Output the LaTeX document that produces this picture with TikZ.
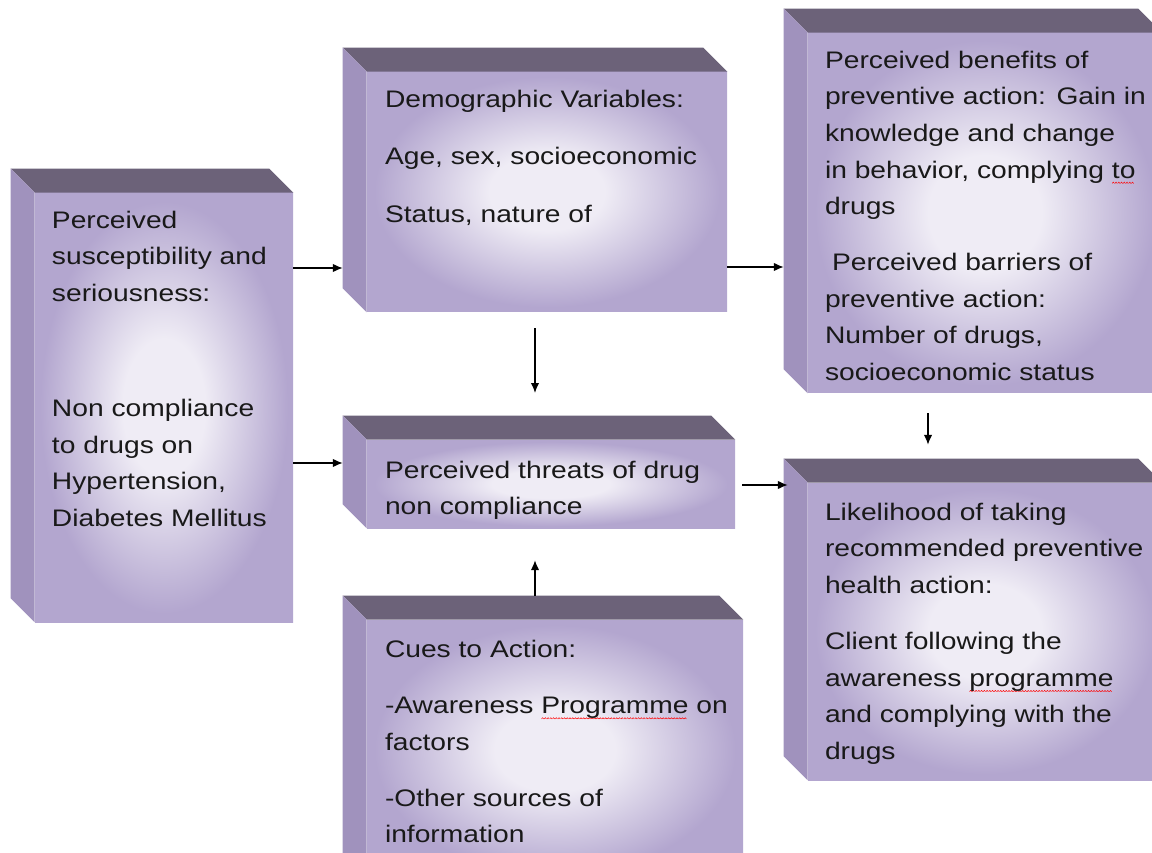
\documentclass[tikz,border=0pt]{standalone}
\usepackage{fontspec}
\usepackage{tikz}
\usetikzlibrary{fit,calc,arrows.meta}
\newfontfamily\boxfont[FakeStretch=1.18]{Liberation Sans}
\definecolor{topFace}{HTML}{6C6279}
\definecolor{sideFace}{HTML}{A092BD}
\definecolor{faceEdge}{HTML}{B3A6CF}
\definecolor{faceLight}{HTML}{EFECF5}
\pgfdeclareradialshading{softface}{\pgfpoint{0bp}{0bp}}{%
  color(0bp)=(faceLight); color(8bp)=(faceLight);
  color(24bp)=(faceEdge); color(50bp)=(faceEdge)}
\newcommand\spellwave[1]{\setbox0\hbox{#1}\rlap{\raisebox{-4pt}{\leaders\hbox{\tikz\draw[red,line width=0.35pt] (0pt,0pt)--(0.8pt,0.9pt)--(1.6pt,0pt);}\hskip\wd0}}#1}
\begin{document}
\begin{tikzpicture}[
x=0.025cm, y=-0.025cm,
face/.style={
  inner sep=0,
  shading=softface
  },
txt/.style={
  anchor=north west,
  inner sep=0,
  align=left,
  text=black!90,
  font=\boxfont\fontsize{17}{26}\selectfont
  },
flow/.style={-{Latex[length=7pt,width=6pt]}, line width=0.9pt}
]
\useasboundingbox (0,0) rectangle (1152,853);
\clip (0,0) rectangle (1152,853);
\node[face, shade, fit={(35,193) (293,622)}] (perc) {};
\node[face, shade, fit={(367,72) (727,312)}] (dem) {};
\node[face, shade, fit={(808,33) (1162,393)}] (ben) {};
\node[face, shade, fit={(367,440) (735,528)}] (thr) {};
\node[face, shade, fit={(367,620) (743,880)}] (cue) {};
\node[face, shade, fit={(808,483) (1162,780)}] (like) {};
\foreach \b in {perc,dem,ben,thr,cue,like}{
  \fill[topFace] (\b.north west) -- ++(-24,-24) -- ($(\b.north east)+(-24,-24)$) -- (\b.north east) -- cycle;
  \fill[sideFace] (\b.north west) -- ++(-24,-24) -- ($(\b.south west)+(-24,-24)$) -- (\b.south west) -- cycle;
}
\node[txt] (percTxt) at ([shift={(17,18)}]perc.north west)
  {Perceived\\ susceptibility and\\ seriousness:\\[56pt]
   Non compliance\\ to drugs on\\ Hypertension,\\ Diabetes Mellitus};
\node[txt] (demTxt) at ([shift={(18,18)}]dem.north west)
  {Demographic Variables:\\[15pt] Age, sex, socioeconomic\\[15pt] Status, nature of};
\node[txt] (benTxt) at ([shift={(17,18)}]ben.north west)
  {Perceived benefits of\\ preventive action: Gain in\\ knowledge and change\\
   in behavior, complying \spellwave{to}\\ drugs\\[14pt]
   \hspace*{5pt}Perceived barriers of\\ preventive action:\\ Number of drugs,\\ socioeconomic status};
\node[txt] (thrTxt) at ([shift={(18,21)}]thr.north west)
  {Perceived threats of drug\\ non compliance};
\node[txt] (cueTxt) at ([shift={(18,20)}]cue.north west)
  {Cues to Action:\\[14pt] -Awareness \spellwave{Programme} on\\ factors\\[14pt]
   -Other sources of\\ information};
\node[txt] (likeTxt) at ([shift={(17,20)}]like.north west)
  {Likelihood of taking\\ recommended preventive\\ health action:\\[14pt]
   Client following the\\ awareness \spellwave{programme}\\ and complying with the\\ drugs};
\draw[flow, shorten >=6mm] (perc.east |- 0,268) -- (dem.west |- 0,268);
\draw[flow, shorten >=6mm] (perc.east |- 0,463) -- (thr.west |- 0,463);
\draw[flow, shorten <=4mm, shorten >=11.7mm] (dem.south -| 535,0) -- (thr.north -| 535,0);
\draw[flow, shorten <=6mm, shorten >=8mm] (cue.north -| 535,0) -- (thr.south -| 535,0);
\draw[flow, shorten >=6mm] (dem.east |- 0,267) -- (ben.west |- 0,267);
\draw[flow, shorten <=5mm, shorten >=9.5mm] (ben.south -| 928,0) -- (like.north -| 928,0);
\draw[flow, shorten <=1.8mm, shorten >=5mm] (thr.east |- 0,485) -- (like.west |- 0,485);
\end{tikzpicture}
\end{document}
